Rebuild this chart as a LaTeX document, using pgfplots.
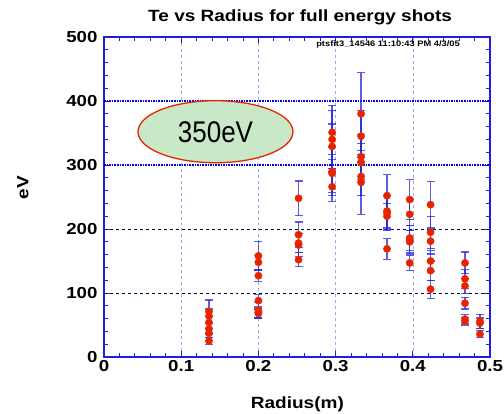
\documentclass[border=0pt]{standalone}
\usepackage{pgfplots}
\pgfplotsset{compat=1.18}
\usepackage{fontspec}
\setmainfont{Liberation Sans}
\newfontfamily\wf[FakeStretch=1.17]{Liberation Sans}
\newfontfamily\nf[FakeStretch=0.87]{Liberation Sans}
\definecolor{axblue}{RGB}{30,30,220}
\definecolor{ebblue}{RGB}{40,40,220}
\definecolor{ptred}{RGB}{230,35,0}
\definecolor{vgrid}{RGB}{165,165,235}
\definecolor{ellg}{RGB}{200,232,200}
\begin{document}
\begin{tikzpicture}
\begin{axis}[
  at={(0,0)}, anchor=south west,
  scale only axis, width=386bp, height=320bp,
  xmin=0, xmax=0.5, ymin=0, ymax=500,
  xtick={0,0.1,0.2,0.3,0.4,0.5},
  xticklabels={0,0.1,0.2,0.3,0.4,0.5},
  ytick={0,100,200,300,400,500},
  minor x tick num=4, minor y tick num=4,
  tick align=inside,
  major tick length=6bp, minor tick length=4bp,
  every tick/.style={axblue, line width=0.8pt},
  axis line style={axblue, line width=1.4pt},
  /pgf/number format/assume math mode=true,
  ticklabel style={font=\wf\bfseries\fontsize{16}{16}\selectfont},
  yticklabel style={xshift=-3bp},
  xmajorgrids,
  major grid style={vgrid, dashed, line width=0.6pt},
  title={\wf\bfseries\fontsize{16.3}{17}\selectfont Te vs Radius for full energy shots},
  title style={at={(axis description cs:0.508,1.03)}, anchor=base},
  xlabel={\wf\bfseries\fontsize{16.3}{17}\selectfont Radius(m)},
  xlabel style={at={(axis description cs:0.501,-0.161)}, anchor=base},
  ylabel={\wf\bfseries\fontsize{16.3}{17}\selectfont eV},
  ylabel style={at={(axis description cs:-0.21,0.53)}, anchor=center},
  clip=false,
]
\draw[black!75!blue, dashed, line width=0.6pt] (axis cs:0,100) -- (axis cs:0.5,100);
\draw[black!75!blue, dashed, line width=0.6pt] (axis cs:0,200) -- (axis cs:0.5,200);
\draw[blue!85!black, densely dotted, line width=1.6pt] (axis cs:0,300) -- (axis cs:0.5,300);
\draw[blue!85!black, densely dotted, line width=1.6pt] (axis cs:0,400) -- (axis cs:0.5,400);
\addplot[draw=none, mark=none,
  error bars/.cd, y dir=both, y explicit,
  error bar style={ebblue, opacity=0.75, line width=1.3pt},
  error mark options={rotate=90, ebblue, opacity=0.75, mark size=4bp, line width=1.1pt}]
  table[x=x, y=y, y error=e] {
x y e
0.136 71 18
0.136 64 11
0.136 54 9
0.136 44 8
0.136 37 7
0.136 25 5
0.200 158 23
0.200 148 11
0.200 127 9
0.200 88 9
0.200 73 12
0.200 70 8
0.200 68 7
0.252 248 27
0.252 191 20
0.252 178 15
0.252 175 18
0.252 152 11
0.2955 351 42
0.2955 340 45
0.2955 329 35
0.2955 290 38
0.2955 287 30
0.2955 266 23
0.333 380 64
0.333 345 40
0.333 313 35
0.333 304 30
0.333 282 30
0.333 273 50
0.3666 252 33
0.3666 228 25
0.3666 225 28
0.3666 220 20
0.3666 169 16
0.396 246 31
0.396 223 25
0.396 186 20
0.396 183 22
0.396 180 17
0.396 147 12
0.423 238 36
0.423 195 25
0.423 181 20
0.423 150 16
0.423 135 15
0.423 106 14
0.4676 147 17
0.4676 122 15
0.4676 111 12
0.4676 84 9
0.4676 59 7
0.4676 56 6
0.487 56 11
0.487 53 8
0.487 36 6
};
\addplot[only marks, mark=*, mark size=3.7bp, ptred, mark options={fill=ptred, draw=ptred!80!orange}]
  table[x=x, y=y] {
x y
0.136 71
0.136 64
0.136 54
0.136 44
0.136 37
0.136 25
0.200 158
0.200 148
0.200 127
0.200 88
0.200 73
0.200 70
0.200 68
0.252 248
0.252 191
0.252 178
0.252 175
0.252 152
0.2955 351
0.2955 340
0.2955 329
0.2955 290
0.2955 287
0.2955 266
0.333 380
0.333 345
0.333 313
0.333 304
0.333 282
0.333 273
0.3666 252
0.3666 228
0.3666 225
0.3666 220
0.3666 169
0.396 246
0.396 223
0.396 186
0.396 183
0.396 180
0.396 147
0.423 238
0.423 195
0.423 181
0.423 150
0.423 135
0.423 106
0.4676 147
0.4676 122
0.4676 111
0.4676 84
0.4676 59
0.4676 56
0.487 56
0.487 53
0.487 36
};
\draw[ptred, line width=1.3pt, fill=ellg] (axis cs:0.1444,352) ellipse [x radius=77.5bp, y radius=31bp];
\node[font=\nf\fontsize{30}{30}\selectfont, inner sep=0pt] at (axis cs:0.1444,352) {350eV};
\node[font=\wf\bfseries\fontsize{8}{8}\selectfont, inner sep=0pt] at (axis cs:0.368,488) {ptsfit3\_14546 11:10:43 PM 4/3/05};
\end{axis}
\pgfresetboundingbox
\path[use as bounding box] (-104bp,-57bp) rectangle (400bp,357bp);
\end{tikzpicture}
\end{document}
